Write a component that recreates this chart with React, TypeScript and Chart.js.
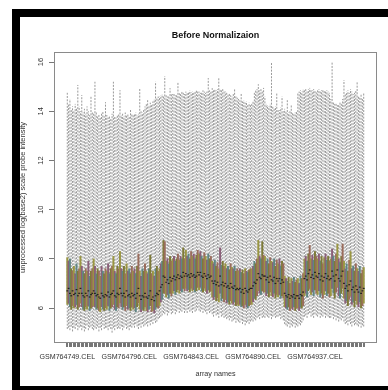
import React, { useEffect, useRef } from "react";
import Chart from "chart.js/auto";

// ---- categories ----
const firstSampleId = 764749;
const sampleCount = 226;
const sampleNames: string[] = Array.from({ length: sampleCount }, (_, i) => `GSM${firstSampleId + i}.CEL`);
const labelEvery = 47;
const yTicks = [6, 8, 10, 12, 14, 16];

// ---- per-array statistics (log2 intensity) ----
const lowest = [
  5.15, 5.2, 5.1, 5.25, 5.05, 5.2, 5.15, 5.3, 5.1, 5.2,
  5.25, 5.1, 5.2, 5.05, 5.15, 5.3, 5.1, 5.2, 5.25, 5.15,
  5.1, 5.2, 5.15, 5.25, 5.05, 5.2, 5.1, 5.3, 5.15, 5.2,
  5.2, 5.1, 5.25, 5.15, 5.0, 5.2, 5.1, 5.25, 5.15, 5.2,
  5.15, 5.25, 5.1, 5.2, 5.3, 5.15, 5.2, 5.1, 5.25, 5.2,
  5.3, 5.2, 5.35, 5.25, 5.15, 5.3, 5.2, 5.35, 5.25, 5.3,
  5.35, 5.25, 5.4, 5.3, 5.45, 5.35, 5.5, 5.4, 5.45, 5.55,
  5.6, 5.65, 5.7, 5.8, 5.75, 5.85, 5.7, 5.8, 5.9, 5.75,
  5.8, 5.9, 5.75, 5.85, 5.95, 5.8, 5.9, 5.85, 5.95, 5.8,
  5.9, 5.8, 5.95, 5.85, 5.9, 5.8, 5.95, 5.85, 5.9, 6.0,
  5.9, 5.85, 5.95, 5.8, 5.9, 5.85, 5.75, 5.9, 5.8, 5.85,
  5.75, 5.65, 5.8, 5.7, 5.75, 5.6, 5.8, 5.65, 5.7, 5.6,
  5.65, 5.55, 5.6, 5.5, 5.6, 5.45, 5.5, 5.55, 5.4, 5.5,
  5.45, 5.4, 5.5, 5.35, 5.45, 5.3, 5.4, 5.45, 5.35, 5.45,
  5.5, 5.45, 5.55, 5.5, 5.6, 5.65, 5.55, 5.7, 5.6, 5.65,
  5.6, 5.7, 5.65, 5.6, 5.7, 5.55, 5.65, 5.7, 5.6, 5.65,
  5.65, 5.7, 5.55, 5.6, 5.5, 5.35, 5.3, 5.25, 5.35, 5.2,
  5.3, 5.25, 5.35, 5.2, 5.3, 5.25, 5.35, 5.3, 5.4, 5.5,
  5.65, 5.7, 5.6, 5.75, 5.8, 5.65, 5.7, 5.6, 5.75, 5.7,
  5.65, 5.75, 5.6, 5.7, 5.65, 5.75, 5.6, 5.7, 5.65, 5.6,
  5.6, 5.7, 5.55, 5.65, 5.5, 5.6, 5.45, 5.55, 5.5, 5.6,
  5.45, 5.35, 5.4, 5.3, 5.45, 5.35, 5.25, 5.4, 5.3, 5.35,
  5.3, 5.25, 5.35, 5.2, 5.3, 5.25,
];

const lowerQuartile = [
  6.15, 6.2, 6.05, 5.95, 6.1, 6.0, 6.05, 6.15, 5.95, 6.05,
  6.2, 6.05, 5.95, 5.9, 6.05, 5.95, 6.1, 5.9, 6.0, 6.05,
  6.1, 6.05, 5.95, 6.0, 5.9, 5.85, 6.05, 5.95, 5.9, 6.0,
  5.95, 6.1, 5.9, 6.0, 6.05, 6.15, 5.95, 5.9, 6.05, 6.0,
  6.2, 6.05, 5.95, 6.05, 5.9, 6.1, 5.95, 6.0, 5.9, 6.05,
  5.95, 6.0, 5.85, 6.05, 6.2, 5.95, 5.85, 5.95, 5.9, 6.05,
  5.9, 5.85, 5.95, 6.1, 5.85, 5.9, 5.8, 5.95, 6.05, 6.0,
  6.1, 6.25, 6.35, 6.6, 6.6, 6.45, 6.55, 6.4, 6.6, 6.5,
  6.6, 6.7, 6.55, 6.65, 6.75, 6.6, 6.7, 6.65, 6.8, 6.7,
  6.8, 6.7, 6.75, 6.65, 6.8, 6.7, 6.75, 6.65, 6.7, 6.85,
  6.75, 6.85, 6.7, 6.65, 6.8, 6.7, 6.6, 6.75, 6.65, 6.7,
  6.45, 6.35, 6.45, 6.3, 6.4, 6.25, 6.6, 6.3, 6.4, 6.25,
  6.35, 6.2, 6.25, 6.15, 6.3, 6.2, 6.15, 6.25, 6.1, 6.15,
  6.1, 6.15, 6.05, 6.1, 6.0, 6.15, 6.05, 6.0, 6.1, 6.15,
  6.15, 6.25, 6.4, 6.35, 6.5, 6.7, 6.6, 6.55, 6.7, 6.65,
  6.65, 6.5, 6.6, 6.45, 6.65, 6.5, 6.45, 6.6, 6.4, 6.55,
  6.45, 6.55, 6.4, 6.5, 6.4, 6.05, 6.0, 5.95, 6.05, 5.9,
  6.0, 5.95, 6.05, 5.9, 6.0, 6.0, 5.9, 6.05, 6.0, 6.1,
  6.5, 6.6, 6.45, 6.7, 6.8, 6.55, 6.65, 6.5, 6.75, 6.6,
  6.55, 6.7, 6.45, 6.6, 6.4, 6.55, 6.7, 6.5, 6.6, 6.45,
  6.5, 6.8, 6.6, 6.4, 6.65, 6.85, 6.5, 6.4, 6.6, 6.8,
  6.4, 6.2, 6.3, 6.1, 6.35, 6.5, 6.15, 6.25, 6.05, 6.3,
  6.15, 6.05, 6.25, 6.0, 6.1, 6.2,
];

const median = [
  6.7, 6.8, 6.6, 6.5, 6.7, 6.55, 6.6, 6.75, 6.5, 6.6,
  6.8, 6.6, 6.5, 6.45, 6.6, 6.5, 6.7, 6.45, 6.55, 6.6,
  6.7, 6.6, 6.5, 6.55, 6.45, 6.4, 6.6, 6.5, 6.45, 6.55,
  6.5, 6.65, 6.45, 6.55, 6.6, 6.7, 6.5, 6.45, 6.6, 6.55,
  6.8, 6.6, 6.5, 6.6, 6.45, 6.7, 6.5, 6.55, 6.45, 6.6,
  6.5, 6.55, 6.4, 6.6, 6.8, 6.5, 6.35, 6.5, 6.45, 6.6,
  6.45, 6.4, 6.5, 6.7, 6.35, 6.45, 6.3, 6.5, 6.6, 6.55,
  6.7, 6.85, 6.95, 7.3, 7.25, 7.05, 7.15, 7.0, 7.25, 7.1,
  7.2, 7.3, 7.15, 7.25, 7.35, 7.2, 7.3, 7.25, 7.45, 7.3,
  7.4, 7.3, 7.35, 7.25, 7.4, 7.3, 7.35, 7.25, 7.3, 7.45,
  7.35, 7.45, 7.3, 7.25, 7.4, 7.3, 7.2, 7.35, 7.25, 7.3,
  7.1, 7.0, 7.1, 6.95, 7.05, 6.9, 7.3, 6.95, 7.05, 6.9,
  7.0, 6.85, 6.9, 6.8, 7.0, 6.85, 6.8, 6.9, 6.75, 6.8,
  6.75, 6.8, 6.65, 6.75, 6.6, 6.8, 6.7, 6.65, 6.75, 6.8,
  6.8, 6.9, 7.05, 7.0, 7.15, 7.4, 7.25, 7.2, 7.35, 7.3,
  7.3, 7.15, 7.25, 7.05, 7.3, 7.15, 7.1, 7.25, 7.0, 7.2,
  7.1, 7.2, 7.0, 7.15, 7.05, 6.6, 6.5, 6.45, 6.55, 6.4,
  6.5, 6.45, 6.55, 6.4, 6.5, 6.5, 6.4, 6.55, 6.5, 6.65,
  7.2, 7.3, 7.15, 7.4, 7.55, 7.25, 7.35, 7.2, 7.45, 7.3,
  7.25, 7.4, 7.15, 7.3, 7.1, 7.25, 7.4, 7.2, 7.3, 7.15,
  7.2, 7.5, 7.3, 7.1, 7.35, 7.55, 7.2, 7.1, 7.3, 7.5,
  7.0, 6.8, 6.9, 6.7, 6.95, 7.1, 6.75, 6.85, 6.65, 6.9,
  6.75, 6.65, 6.85, 6.6, 6.7, 6.8,
];

const upperQuartile = [
  8.05, 7.9, 8.0, 7.6, 7.5, 7.7, 7.4, 7.8, 7.5, 7.6,
  8.1, 7.7, 7.5, 7.4, 7.6, 7.5, 7.9, 7.3, 7.5, 7.6,
  8.0, 7.7, 7.4, 7.6, 7.5, 7.3, 7.7, 7.5, 7.4, 7.6,
  7.5, 7.8, 7.4, 7.6, 7.7, 8.1, 7.5, 7.4, 7.7, 7.6,
  8.3, 7.6, 7.5, 7.7, 7.4, 7.8, 7.5, 7.6, 7.4, 7.7,
  7.5, 7.6, 7.4, 7.7, 8.2, 7.5, 7.3, 7.6, 7.5, 7.8,
  7.5, 7.4, 7.6, 8.15, 7.4, 7.5, 7.3, 7.6, 7.7, 7.5,
  7.6, 7.8, 7.9, 8.75, 8.7, 7.9, 8.0, 7.8, 8.1, 7.9,
  8.0, 8.1, 7.9, 8.0, 8.2, 7.95, 8.1, 8.0, 8.45, 8.0,
  8.35, 8.1, 8.2, 8.0, 8.3, 8.1, 8.2, 8.0, 8.15, 8.35,
  8.2, 8.3, 8.1, 8.0, 8.25, 8.1, 7.95, 8.2, 8.0, 8.1,
  7.9, 7.8, 7.95, 7.7, 7.85, 7.6, 8.45, 7.75, 7.9, 7.7,
  7.8, 7.6, 7.7, 7.55, 7.8, 7.65, 7.6, 7.7, 7.5, 7.6,
  7.5, 7.6, 7.45, 7.55, 7.4, 7.6, 7.5, 7.45, 7.55, 7.6,
  7.6, 7.7, 7.9, 7.8, 8.0, 8.75, 8.1, 8.0, 8.7, 8.15,
  8.1, 7.9, 8.0, 7.8, 8.05, 7.9, 7.85, 8.0, 7.7, 7.95,
  7.8, 8.0, 7.7, 7.9, 7.8, 7.3, 7.2, 7.1, 7.25, 7.0,
  7.2, 7.1, 7.25, 7.05, 7.15, 7.2, 7.0, 7.3, 7.2, 7.4,
  8.0, 8.1, 7.9, 8.2, 8.55, 8.0, 8.15, 7.95, 8.3, 8.1,
  8.0, 8.2, 7.9, 8.1, 7.8, 8.05, 8.2, 7.95, 8.1, 7.9,
  8.0, 8.4, 8.1, 7.9, 8.2, 8.6, 8.0, 7.85, 8.1, 8.6,
  7.9, 7.6, 7.8, 7.5, 7.95, 8.3, 7.6, 7.7, 7.5, 7.8,
  7.6, 7.5, 7.7, 7.4, 7.55, 7.65,
];

const highest = [
  14.75, 14.3, 14.5, 14.1, 14.2, 14.0, 14.3, 14.1, 15.07, 14.2,
  14.0, 14.66, 13.95, 14.1, 13.9, 14.2, 14.0, 13.85, 14.6, 13.95,
  13.9, 15.2, 13.95, 13.8, 13.85, 13.75, 13.9, 14.0, 13.8, 14.37,
  13.85, 13.75, 13.8, 13.7, 13.9, 15.2, 13.8, 13.75, 13.85, 13.9,
  14.86, 13.85, 13.9, 13.8, 13.95, 13.85, 13.9, 13.8, 14.1, 13.9,
  13.85, 13.9, 13.95, 13.85, 13.9, 14.94, 14.0, 13.95, 14.1, 14.2,
  14.3, 14.45, 14.25, 14.35, 14.3, 14.4, 14.5, 15.2, 14.55, 14.6,
  14.6, 14.65, 14.7, 14.6, 15.43, 14.7, 14.6, 14.65, 14.94, 14.7,
  14.7, 14.75, 14.65, 14.7, 15.2, 14.75, 14.7, 14.8, 14.75, 14.7,
  14.8, 14.75, 14.8, 14.85, 14.78, 14.8, 14.75, 14.8, 14.85, 14.8,
  14.8, 14.75, 14.8, 14.85, 14.8, 14.75, 14.8, 15.35, 14.85, 14.8,
  14.94, 14.85, 14.9, 14.85, 14.9, 15.35, 14.9, 14.85, 14.9, 14.85,
  14.8, 14.75, 14.7, 14.75, 14.65, 14.6, 14.7, 14.9, 14.6, 14.55,
  14.5, 14.45, 14.75, 14.4, 14.45, 14.35, 14.4, 14.3, 14.35, 14.3,
  14.3, 14.4, 14.75, 14.85, 14.9, 15.1, 14.85, 14.9, 14.85, 14.95,
  14.6, 14.3, 14.25, 14.2, 14.3, 16.0, 14.2, 14.15, 14.2, 14.75,
  14.1, 14.05, 14.15, 14.6, 14.0, 14.1, 14.0, 14.45, 13.95, 14.0,
  14.25, 13.95, 13.9, 13.95, 14.0, 14.75, 14.8, 14.85, 14.8, 14.9,
  14.85, 14.9, 14.85, 14.9, 14.95, 14.9, 14.85, 14.9, 14.85, 14.8,
  14.85, 14.9, 14.8, 14.85, 14.9, 14.85, 14.8, 14.85, 14.8, 14.75,
  14.5, 16.0, 14.4, 14.3, 14.35, 14.25, 14.3, 14.4, 14.35, 14.5,
  15.27, 14.7, 14.8, 14.85, 14.75, 14.9, 14.8, 14.7, 14.75, 14.85,
  15.2, 14.6, 14.55, 14.7, 14.5, 14.75,
];

const boxColors = ["#9a9642", "#8b5f78", "#5f8684", "#7d7a38", "#9a6c5c"];

const FONT = "'Liberation Sans', Arial, Helvetica, sans-serif";

export default function App() {
  const canvasRef = useRef<HTMLCanvasElement | null>(null);

  useEffect(() => {
    const canvas = canvasRef.current;
    if (!canvas) return;

    const positions = sampleNames.map((_, i) => i + 1);
    const spread: { x: number; y: number | null }[] = [];
    positions.forEach((x, i) => {
      spread.push({ x, y: lowest[i] }, { x, y: highest[i] }, { x, y: null });
    });
    const boxes = positions.map((x, i) => ({ x, y: [lowerQuartile[i], upperQuartile[i]] }));
    const medians = positions.map((x, i) => ({ x, y: median[i] }));

    const plotFrame = {
      id: "plotFrame",
      afterDatasetsDraw(chart: any) {
        const { ctx, chartArea: a } = chart;
        ctx.save();
        ctx.strokeStyle = "#8a8a8a";
        ctx.lineWidth = 1;
        ctx.strokeRect(Math.round(a.left) + 0.5, Math.round(a.top) + 0.5, Math.round(a.right - a.left) - 1, Math.round(a.bottom - a.top) - 1);
        ctx.restore();
      },
    };

    const chart = new Chart(canvas, {
      type: "bar",
      data: {
        datasets: [
          {
            type: "line",
            data: spread as any,
            borderColor: "#999999",
            borderWidth: 1,
            borderDash: [2, 1.3],
            pointRadius: 0,
            spanGaps: false,
            order: 3,
          } as any,
          {
            type: "bar",
            data: boxes as any,
            backgroundColor: positions.map((_, i) => boxColors[i % boxColors.length]),
            borderWidth: 0,
            barPercentage: 1,
            categoryPercentage: 1,
            order: 2,
          } as any,
          {
            type: "line",
            data: medians as any,
            showLine: false,
            pointStyle: "line",
            pointRadius: 0.9,
            pointBorderWidth: 1.2,
            pointBorderColor: "#222",
            order: 1,
          } as any,
        ],
      },
      options: {
        responsive: false,
        animation: false,
        devicePixelRatio: 1,
        layout: { padding: { left: 0, right: 11, top: 0, bottom: 0 } },
        plugins: {
          legend: { display: false },
          tooltip: { enabled: false },
          title: {
            display: true,
            text: "Before Normalizaion",
            fullSize: false,
            color: "#111",
            font: { family: FONT, size: 9, weight: "bold" },
            padding: { top: 30, bottom: 11.2 },
          },
        },
        scales: {
          x: {
            type: "linear",
            min: -8.54,
            max: 235.54,
            afterBuildTicks: (scale: any) => {
              scale.ticks = positions.map((v) => ({ value: v }));
            },
            afterFit: (scale: any) => {
              scale.height = 47;
            },
            grid: { drawOnChartArea: false, drawTicks: true, tickLength: 4, color: "#777", lineWidth: 1 },
            border: { display: false },
            ticks: {
              autoSkip: false,
              maxRotation: 0,
              minRotation: 0,
              padding: 5.5,
              color: "#333",
              font: { family: FONT, size: 7.1 },
              callback: (value: any) => {
                const idx = Math.round(Number(value)) - 1;
                return idx >= 0 && idx < sampleNames.length && idx % labelEvery === 0 ? sampleNames[idx] : "";
              },
            },
            title: {
              display: true,
              text: "array names",
              color: "#333",
              font: { family: FONT, size: 7.2 },
              padding: { top: 0, bottom: 11.7 },
            },
          },
          y: {
            type: "linear",
            min: 4.58,
            max: 16.41,
            afterBuildTicks: (scale: any) => {
              scale.ticks = yTicks.map((v) => ({ value: v }));
            },
            afterFit: (scale: any) => {
              scale.width = 54;
            },
            grid: { drawOnChartArea: false, drawTicks: true, tickLength: 5, color: "#777", lineWidth: 1 },
            border: { display: false },
            ticks: {
              minRotation: 90,
              maxRotation: 90,
              crossAlign: "center",
              padding: 3.5,
              color: "#333",
              font: { family: FONT, size: 7.5 },
              callback: (value: any) => String(value),
            },
            title: {
              display: true,
              text: "unprocessed log(base2) scale probe intensity",
              color: "#333",
              font: { family: FONT, size: 7.5 },
              padding: { top: 18.5, bottom: 0 },
            },
          },
        },
      } as any,
      plugins: [plotFrame],
    });

    return () => chart.destroy();
  }, []);

  const bar = (style: React.CSSProperties): React.CSSProperties => ({
    position: "absolute",
    background: "#000",
    ...style,
  });

  return (
    <div style={{ position: "fixed", left: 0, top: 0, width: 388, height: 390, background: "#fff", overflow: "hidden" }}>
      <canvas ref={canvasRef} width={388} height={390} style={{ position: "absolute", left: 0, top: 0, width: 388, height: 390 }} />
      <div style={bar({ left: 12, top: 9, width: 376, height: 8 })} />
      <div style={bar({ left: 12, top: 9, width: 8, height: 381 })} />
      <div style={bar({ left: 12, top: 386, width: 376, height: 4 })} />
    </div>
  );
}
